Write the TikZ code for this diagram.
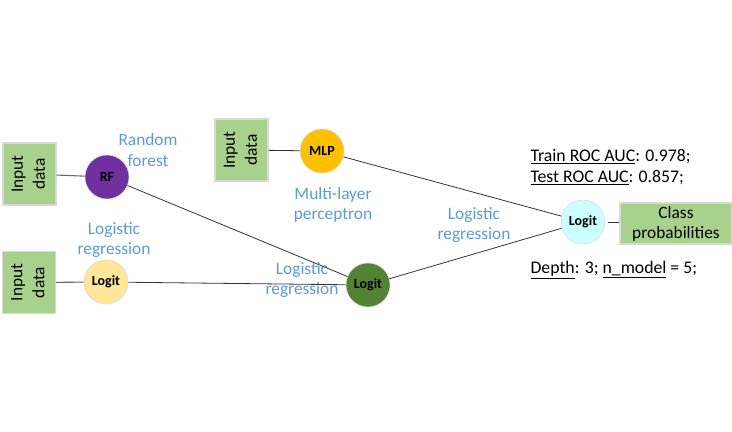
\documentclass[tikz,border=0pt]{standalone}
\usepackage{fontspec}
\setmainfont{Carlito}
\usepackage{xcolor}
\definecolor{boxgreen}{RGB}{169,209,142}
\definecolor{rfpurple}{RGB}{112,48,160}
\definecolor{logyellow}{RGB}{255,230,153}
\definecolor{mlporange}{RGB}{255,192,0}
\definecolor{darkgreen}{RGB}{84,130,53}
\definecolor{lightcyan}{RGB}{204,255,255}
\definecolor{labelblue}{RGB}{91,155,213}
\tikzset{%
    input box/.style={%
        draw=black!15, fill=boxgreen, minimum width=39.75pt, minimum height=46.5pt,
        inner sep=0pt, font=\fontsize{13}{16.5}\selectfont, align=center
    }
}

\begin{document}
\begin{tikzpicture}[x=0.75pt,y=-0.75pt,thick,
  main node/.style={circle,draw=black!15,thin,minimum size=33pt,inner sep=0pt,
    font=\fontsize{10.5}{11}\selectfont\bfseries},
  model label/.style={text=labelblue,align=center,font=\fontsize{13}{15.5}\selectfont},
  score/.style={anchor=west,inner sep=0pt,font=\fontsize{13.3}{15}\selectfont}]

  \useasboundingbox (0,0) rectangle (732,432);

  \node[input box] (in1) at (29.5,174) {\rotatebox{90}{\begin{tabular}{@{}c@{}}Input\\data\end{tabular}}};
  \node[input box] (in2) at (29,282.5) {\rotatebox{90}{\begin{tabular}{@{}c@{}}Input\\data\end{tabular}}};
  \node[input box] (in3) at (241.5,150) {\rotatebox{90}{\begin{tabular}{@{}c@{}}Input\\data\end{tabular}}};

  \node[main node,fill=rfpurple] (rf) at (107,177) {RF};
  \node[main node,fill=logyellow] (lr) at (106,282) {Logit};
  \node[main node,fill=mlporange] (mlp) at (322,151) {MLP};
  \node[main node,fill=darkgreen] (mid) at (368,285) {Logit};
  \node[main node,fill=lightcyan] (top) at (583,222) {Logit};

  \node[input box,font=\fontsize{13}{15}\selectfont,minimum width=84pt,minimum height=30.75pt]
    (out) at (676,223.5) {Class\\probabilities};

  \node[model label] (rflab) at (148,150) {Random\\forest};
  \node[model label] (lrlab) at (114,240) {Logistic\\regression};
  \node[model label] (mlplab) at (333,205) {Multi-layer\\perceptron};
  \node[model label] (midlab) at (302,280) {Logistic\\regression};
  \node[model label] (toplab) at (474,225) {Logistic\\regression};

  \node[score] (train) at (530,157) {\underline{Train ROC AUC}: 0.978;};
  \node[score] (test) at (530,178) {\underline{Test ROC AUC}: 0.857;};
  \node[score] (depth) at (530,270) {\underline{Depth}: 3; \underline{n\_model} = 5;};

%  input edges are a bit lighter
\path[draw=black!60]
	(in1) edge[] (rf)
	(in2) edge[] (lr);
\path[draw=black!80,semithick]
	(in3) edge[] (mlp)
	(rf) edge[] (mid)
	(lr) edge[] (mid)
	(mlp) edge[] (top)
	(mid) edge[] (top)
	(top) edge[shorten <=2pt,shorten >=0.5pt] (out);
\end{tikzpicture}
\end{document}
